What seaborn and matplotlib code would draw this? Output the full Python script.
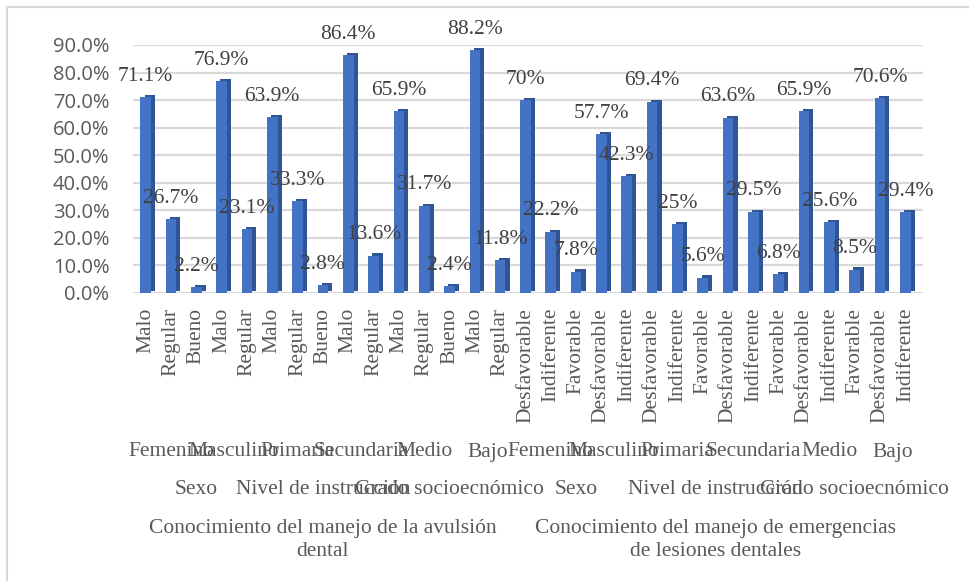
import numpy as np
import pandas as pd
import matplotlib
matplotlib.use("Agg")
import matplotlib.pyplot as plt
import matplotlib.patheffects as pe
from matplotlib.lines import Line2D
import seaborn as sns

# bar categories (innermost axis level)
respuesta = ["Malo", "Regular", "Bueno", "Malo", "Regular", "Malo", "Regular", "Bueno",
             "Malo", "Regular", "Malo", "Regular", "Bueno", "Malo", "Regular",
             "Desfavorable", "Indiferente", "Favorable", "Desfavorable", "Indiferente",
             "Desfavorable", "Indiferente", "Favorable", "Desfavorable", "Indiferente",
             "Favorable", "Desfavorable", "Indiferente", "Favorable", "Desfavorable",
             "Indiferente"]
porcentaje = [71.1, 26.7, 2.2, 76.9, 23.1, 63.9, 33.3, 2.8, 86.4, 13.6, 65.9, 31.7, 2.4,
              88.2, 11.8, 70, 22.2, 7.8, 57.7, 42.3, 69.4, 25, 5.6, 63.6, 29.5, 6.8,
              65.9, 25.6, 8.5, 70.6, 29.4]
etiquetas = ["71.1%", "26.7%", "2.2%", "76.9%", "23.1%", "63.9%", "33.3%", "2.8%",
             "86.4%", "13.6%", "65.9%", "31.7%", "2.4%", "88.2%", "11.8%", "70%",
             "22.2%", "7.8%", "57.7%", "42.3%", "69.4%", "25%", "5.6%", "63.6%",
             "29.5%", "6.8%", "65.9%", "25.6%", "8.5%", "70.6%", "29.4%"]

# second level groups (name, number of bars)
subgrupos = [("Femenino", 3), ("Masculino", 2), ("Primaria", 3), ("Secundaria", 2),
             ("Medio", 3), ("Bajo", 2),
             ("Femenino", 3), ("Masculino", 2), ("Primaria", 3), ("Secundaria", 3),
             ("Medio", 3), ("Bajo", 2)]
# third level groups
variables = [("Sexo", 5), ("Nivel de instrucción", 5), ("Grado socioecnómico", 5),
             ("Sexo", 5), ("Nivel de instrucción", 6), ("Grado socioecnómico", 5)]
# top level groups
dimensiones = [("Conocimiento del manejo de la avulsión\ndental", 15),
               ("Conocimiento del manejo de emergencias\nde lesiones dentales", 16)]

df = pd.DataFrame({"pos": np.arange(len(porcentaje)),
                   "valor": np.array(porcentaje) / 100})

sns.set_style("white")
fig = plt.figure(figsize=(9.7, 5.81), dpi=100)
ax = fig.add_axes([133 / 970, 1 - 293 / 581, 790 / 970, 248 / 581])

sns.barplot(data=df, x="pos", y="valor", color="#4472c4", saturation=1,
            width=0.42, native_scale=True, ax=ax, zorder=3, linewidth=0)
for p in ax.patches:
    p.set_path_effects([pe.SimplePatchShadow(offset=(3, 1.5), shadow_rgbFace="#2f5597",
                                             alpha=1.0), pe.Normal()])

ax.set_xlim(-0.5, 30.7)
ax.set_ylim(0, 0.9)
ax.set_yticks(np.arange(0, 0.91, 0.1))
ax.yaxis.set_major_formatter(matplotlib.ticker.FuncFormatter(lambda v, _: f"{v:.1%}"))
ax.grid(axis="y", color="#d9d9d9", linewidth=1.6, zorder=0)
ax.set_axisbelow(True)
for s in ax.spines.values():
    s.set_visible(False)
ax.tick_params(axis="y", length=0, pad=17, labelsize=14.5, labelcolor="#595959")
ax.set_xticks([])
ax.set_xlabel("")
ax.set_ylabel("")
for lbl in ax.get_yticklabels():
    lbl.set_fontfamily("Open Sans")

serif = "Liberation Serif"
txt = "#404040"
fs = 15.5

# data labels
for i, (v, t) in enumerate(zip(porcentaje, etiquetas)):
    ax.annotate(t, (i, v / 100), xytext=(0, 15), textcoords="offset points",
                ha="center", va="center", fontsize=fs, family=serif, color=txt,
                zorder=5)

# multi-level category axis
tr = matplotlib.transforms.blended_transform_factory(ax.transData, fig.transFigure)
for i, r in enumerate(respuesta):
    ax.text(i, 1 - 308 / 581, r, transform=tr, rotation=90, ha="center", va="top",
            fontsize=fs, family=serif, color="#595959")


def nivel(grupos, y):
    start = 0
    for name, n in grupos:
        ax.text(start + (n - 1) / 2, 1 - y / 581, name, transform=tr, ha="center",
                va="center", fontsize=fs, family=serif, color="#595959",
                linespacing=1.3)
        start += n


nivel(subgrupos, 452)
nivel(variables, 490)
nivel(dimensiones, 540)

# chart area border (top and left visible in the crop)
fig.add_artist(Line2D([7 / 970, 1], [1 - 7 / 581, 1 - 7 / 581], color="#d9d9d9", lw=1.5))
fig.add_artist(Line2D([7 / 970, 7 / 970], [0, 1 - 7 / 581], color="#d9d9d9", lw=1.5))

fig.savefig("out.png", dpi=100)
